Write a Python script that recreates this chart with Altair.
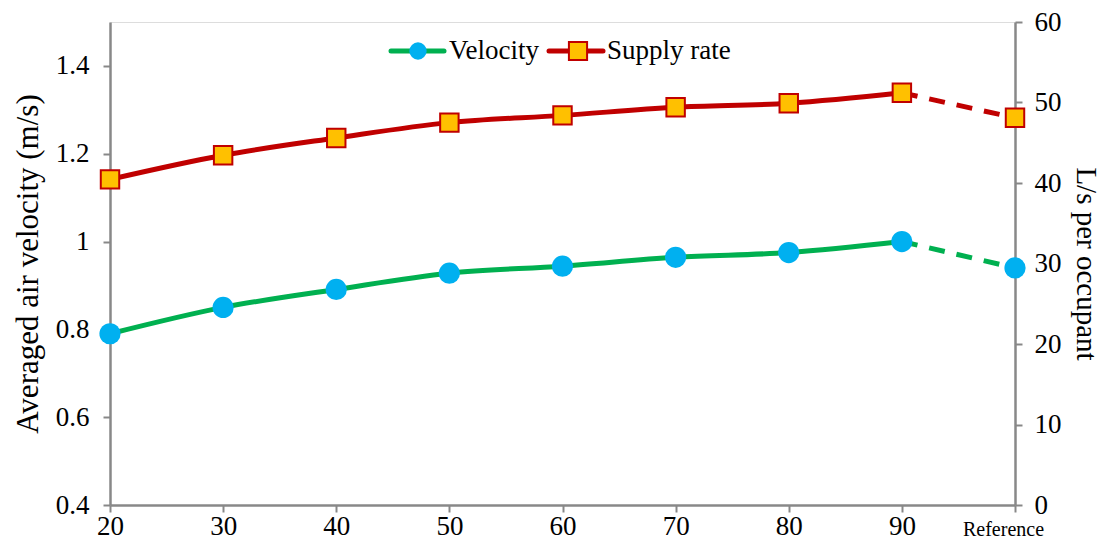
import altair as alt
import pandas as pd

# ---- data ----
x_pos = [20, 30, 40, 50, 60, 70, 80, 90, 100]
x_labels = ["20", "30", "40", "50", "60", "70", "80", "90", "Reference"]
velocity = [0.79, 0.85, 0.891, 0.928, 0.944, 0.964, 0.975, 1.0, 0.94]
supply = [40.45, 43.45, 45.6, 47.5, 48.4, 49.4, 49.9, 51.2, 48.1]

df = pd.DataFrame({"x": x_pos, "label": x_labels, "velocity": velocity, "supply": supply})
df_solid = df[df["x"] <= 90]
df_dash = df[df["x"] >= 90]

FONT = "Liberation Serif"
GREEN = "#00B050"
BLUE = "#00B0F0"
RED = "#C00000"
ORANGE = "#FFC000"
AXIS_GREY = "#888888"

common_axis = dict(
    labelFont=FONT,
    titleFont=FONT,
    labelColor="black",
    titleColor="black",
    domainColor=AXIS_GREY,
    domainWidth=2.5,
    tickColor=AXIS_GREY,
    tickWidth=2,
    grid=False,
    tickSize=7,
)

x_enc = alt.X(
    "x:Q",
    scale=alt.Scale(domain=[20, 100], nice=False, zero=False),
    axis=alt.Axis(
        values=x_pos,
        labelExpr="datum.value == 100 ? 'Reference' : datum.label",
        labelFontSize={"condition": {"test": "datum.value == 100", "value": 20}, "value": 27},
        labelOffset={"condition": {"test": "datum.value == 100", "value": -12}, "value": 0},
        labelBaseline={"condition": {"test": "datum.value == 100", "value": "line-top"}, "value": "top"},
        labelLineHeight=32,
        labelPadding=1,
        labelFlush=False,
        title=None,
        **common_axis,
    ),
)

vy_scale = alt.Scale(domain=[0.4, 1.5], nice=False, zero=False)
vy_axis = alt.Axis(
    values=[0.4, 0.6, 0.8, 1.0, 1.2, 1.4],
    labelExpr="datum.value == 1 ? '1' : format(datum.value, '.1f')",
    labelFontSize=27,
    labelPadding=14,
    title="Averaged air velocity (m/s)",
    titleFontSize=31,
    titleFontWeight="normal",
    titlePadding=11,
    orient="left",
    **common_axis,
)

sy_scale = alt.Scale(domain=[0, 60], nice=False)
sy_axis = alt.Axis(
    values=[0, 10, 20, 30, 40, 50, 60],
    labelFontSize=27,
    labelPadding=12,
    title="L/s per occupant",
    titleFontSize=29,
    titleFontWeight="normal",
    titlePadding=9,
    orient="right",
    **common_axis,
)

base = alt.Chart(df)

v_solid = alt.Chart(df_solid).mark_line(color=GREEN, strokeWidth=5, interpolate="monotone").encode(
    x=x_enc, y=alt.Y("velocity:Q", scale=vy_scale, axis=vy_axis)
)
v_dash = alt.Chart(df_dash).mark_line(color=GREEN, strokeWidth=5, strokeDash=[16, 12]).encode(
    x=x_enc, y=alt.Y("velocity:Q", scale=vy_scale, axis=vy_axis)
)
v_pts = base.mark_point(shape="circle", filled=True, color=BLUE, size=450, opacity=1).encode(
    x=x_enc, y=alt.Y("velocity:Q", scale=vy_scale, axis=vy_axis)
)
vel_layer = alt.layer(v_solid, v_dash, v_pts)

s_solid = alt.Chart(df_solid).mark_line(color=RED, strokeWidth=5, interpolate="monotone").encode(
    x=x_enc, y=alt.Y("supply:Q", scale=sy_scale, axis=sy_axis)
)
s_dash = alt.Chart(df_dash).mark_line(color=RED, strokeWidth=5, strokeDash=[16, 12]).encode(
    x=x_enc, y=alt.Y("supply:Q", scale=sy_scale, axis=sy_axis)
)
s_pts = base.mark_point(shape="square", filled=True, fill=ORANGE, stroke=RED, strokeWidth=2,
                        size=340, opacity=1).encode(
    x=x_enc, y=alt.Y("supply:Q", scale=sy_scale, axis=sy_axis)
)
sup_layer = alt.layer(s_solid, s_dash, s_pts)

# ---- manual legend ----
leg = alt.Chart(pd.DataFrame({"a": [0]}))
ly = 29
leg_v_line = leg.mark_rule(color=GREEN, strokeWidth=5, strokeCap="round").encode(
    x=alt.value(281), x2=alt.value(334), y=alt.value(ly))
leg_v_pt = leg.mark_point(shape="circle", filled=True, color=BLUE, size=300, opacity=1).encode(
    x=alt.value(308), y=alt.value(ly))
leg_v_txt = leg.mark_text(text="Velocity", font=FONT, fontSize=27, align="left", baseline="middle",
                          color="black").encode(x=alt.value(339), y=alt.value(ly))
leg_s_line = leg.mark_rule(color=RED, strokeWidth=5, strokeCap="round").encode(
    x=alt.value(439), x2=alt.value(493), y=alt.value(ly))
leg_s_pt = leg.mark_point(shape="square", filled=True, fill=ORANGE, stroke=RED, strokeWidth=2,
                          size=330, opacity=1).encode(x=alt.value(468), y=alt.value(ly))
leg_s_txt = leg.mark_text(text="Supply rate", font=FONT, fontSize=27, align="left", baseline="middle",
                          color="black").encode(x=alt.value(497), y=alt.value(ly))
legend_layer = alt.layer(leg_v_line, leg_v_pt, leg_v_txt, leg_s_line, leg_s_pt, leg_s_txt)

chart = (
    alt.layer(vel_layer, sup_layer, legend_layer)
    .resolve_scale(y="independent")
    .properties(
        width=905,
        height=483,
        autosize=alt.AutoSizeParams(type="none"),
        padding={"left": 102, "top": 14, "right": 89, "bottom": 35},
    )
    .configure_view(stroke="black", strokeWidth=1.5)
    .configure(background="white")
)

chart.save("out.html", embed_options={"renderer": "svg", "actions": False})
